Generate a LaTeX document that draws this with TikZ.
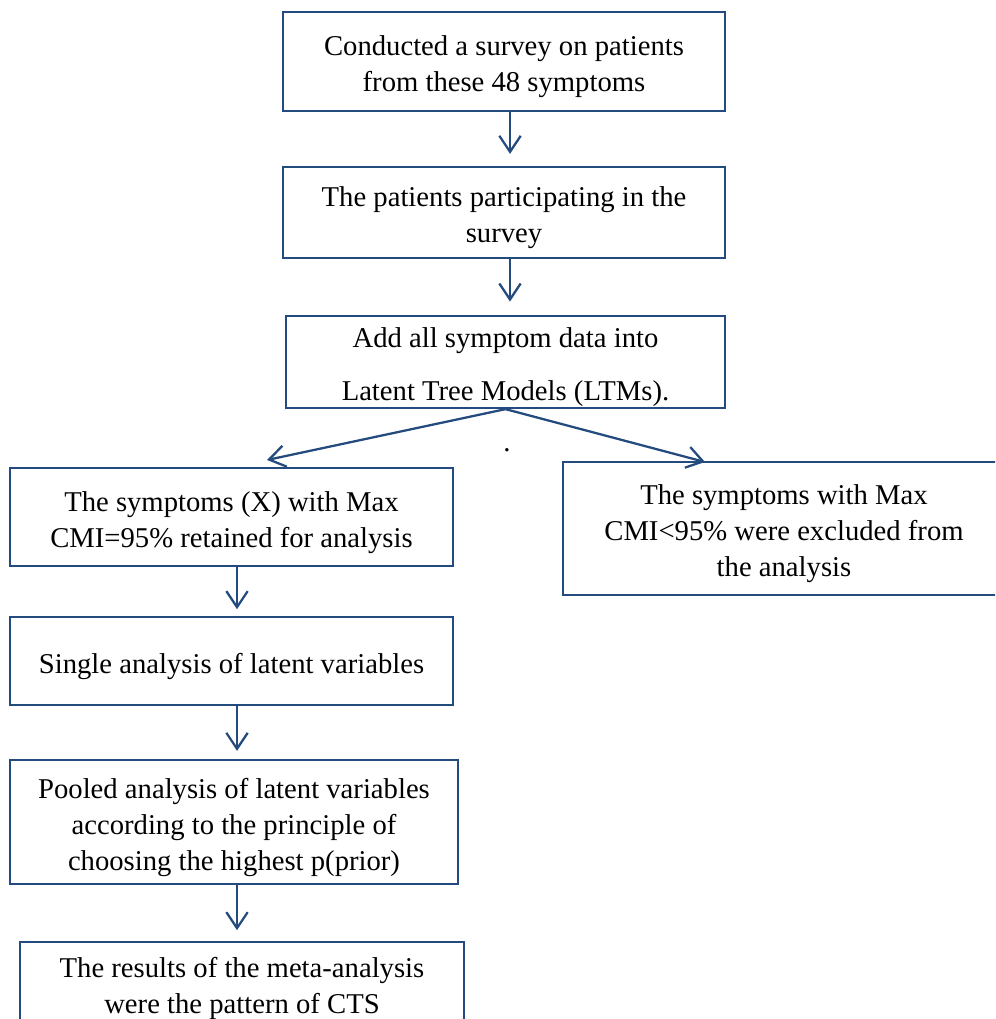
\documentclass[tikz,border=0pt]{standalone}
\usepackage{fontspec}
\setmainfont{Liberation Serif}
\usetikzlibrary{arrows.meta,calc}
\definecolor{boxblue}{RGB}{35,75,125}
\newcommand\tup{\rule{0pt}{23pt}}
\begin{document}
\begin{tikzpicture}[x=0.75pt,y=-0.75pt,
  box/.style={draw=boxblue,line width=1.7pt,rectangle,inner sep=0pt,align=center,
    font=\fontsize{21.5}{27}\selectfont,text=black},
  arr/.style={draw=boxblue,line width=1.7pt,-{Straight Barb[length=12pt,width=16pt,line width=1.7pt]}}]
\clip (0,0) rectangle (995,1019);
\fill[white] (0,0) rectangle (995,1019);
\node[box,minimum width=331.5pt,minimum height=74.25pt] (b1) at (504,61.5)
  {\tup Conducted a survey on patients\\from these 48 symptoms};
\node[box,minimum width=331.5pt,minimum height=68.25pt] (b2) at (504,212.5)
  {\tup The patients participating in the\\survey};
\node[box,minimum width=329.25pt,minimum height=69pt] (b3) at (505.5,362)
  {\tup Add all symptom data into\\[13pt]Latent Tree Models (LTMs).};
\node[box,minimum width=332.25pt,minimum height=73.5pt] (b4) at (231.5,517)
  {\tup The symptoms (X) with Max\\CMI=95\% retained for analysis};
\node[box,minimum width=331.5pt,minimum height=99.75pt] (b5) at (784,528.5)
  {\tup The symptoms with Max\\CMI<95\% were excluded from\\the analysis};
\node[box,minimum width=332.25pt,minimum height=66pt] (b6) at (231.5,661)
  {\tup Single analysis of latent variables};
\node[box,minimum width=336pt,minimum height=93pt] (b7) at (234,822)
  {\tup Pooled analysis of latent variables\\according to the principle of\\choosing the highest p(prior)};
\node[box,minimum width=333pt,minimum height=61.5pt] (b8) at (242,983)
  {\tup The results of the meta-analysis\\were the pattern of CTS};
\node[font=\fontsize{21.5}{27}\selectfont,inner sep=0pt] (dot) at (507,450) {.};
\coordinate (ax1) at (510,0);
\coordinate (ax2) at (237,0);
\coordinate (tl) at (267,460);
\coordinate (tr) at (705,462);
\draw[arr,shorten >=9pt] (b1.south -| ax1) -- (b2.north -| ax1);
\draw[arr,shorten >=10pt] (b2.south -| ax1) -- (b3.north -| ax1);
\draw[arr] (b3.south) -- (tl);
\draw[arr] (b3.south) -- (tr);
\draw[arr,shorten >=5pt] (b4.south -| ax2) -- (b6.north -| ax2);
\draw[arr,shorten >=6pt] (b6.south -| ax2) -- (b7.north -| ax2);
\draw[arr,shorten >=8pt] (b7.south -| ax2) -- (b8.north -| ax2);
\end{tikzpicture}
\end{document}
